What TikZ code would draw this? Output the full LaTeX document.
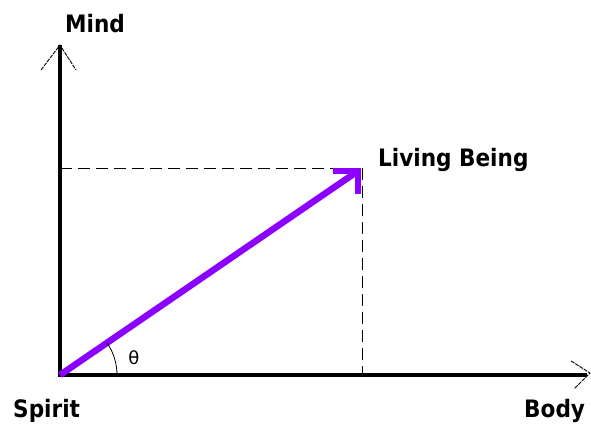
\documentclass[tikz,border=0pt]{standalone}
\usepackage{fontspec}
\setmainfont{DejaVu Sans}
\newfontfamily\lblfont{DejaVu Sans Condensed}
\usetikzlibrary{arrows.meta}
\begin{document}
\begin{tikzpicture}[x=1pt,y=-1pt,
  lbl/.style={font=\lblfont\bfseries\fontsize{24}{27}\selectfont, inner sep=0pt},
  axis/.style={line width=4pt},
  thinhead/.style={line width=0.9pt},
  guide/.style={line width=1pt, dash pattern=on 12pt off 6pt},
  vec/.style={line width=6.5pt, draw={rgb,255:red,140;green,0;blue,255}}]
\useasboundingbox (0,0) rectangle (591,428);
\coordinate (O) at (60,375);
\coordinate (Ytip) at (60,45);
\coordinate (Xtip) at (590,373);
\coordinate (P) at (362,168);
\coordinate (Px) at (362,375);
\coordinate (Py) at (60,168);
% dashed guides
\draw[guide] (Py) -- (P);
\draw[guide] (P) -- (Px);
% axes
\draw[axis] (60,377) -- (Ytip);
\draw[axis] (58,375) -- (587,375);
\draw[thinhead, dash pattern=on 4pt off 1pt] (41,70) -- (Ytip) -- (76,70);
\draw[thinhead, dash pattern=on 4pt off 1pt] (571,361) -- (Xtip) -- (574,389);
% vector
\draw[vec] (O) -- (358,171);
\draw[vec, line join=miter] (333,171) -- (358,171) -- (358,194);
% angle
\draw[line width=0.8pt] (117,375) arc[start angle=0, end angle=-34, radius=57];
\node[inner sep=0pt, font=\fontsize{18}{20}\selectfont] (theta) at (134,358) {θ};
% labels
\node[lbl, anchor=west] (mind) at (65,24) {Mind};
\node[lbl, anchor=west] (lb) at (378,160) {Living Being};
\node[lbl, anchor=west] (spirit) at (13,411) {Spirit};
\node[lbl, anchor=west] (body) at (524,411) {Body};
\end{tikzpicture}
\end{document}
